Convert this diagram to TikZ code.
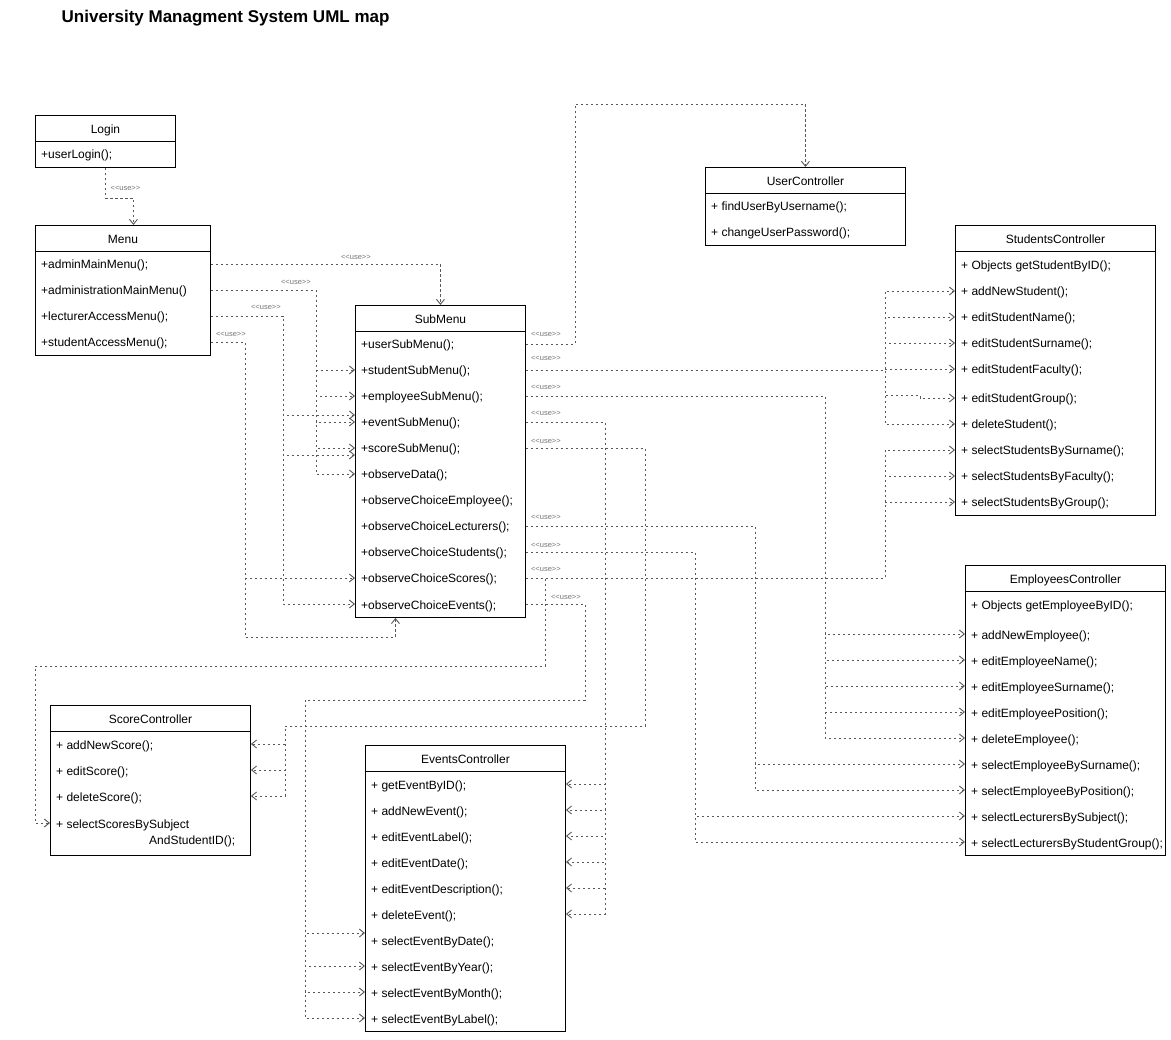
\documentclass[tikz,border=0pt]{standalone}
\usepackage{fontspec}
\setmainfont{Liberation Sans}
\newfontfamily\lblfont{Liberation Sans}
\usetikzlibrary{arrows.meta,calc}
\begin{document}
\begin{tikzpicture}[x=1pt,y=1pt,
  hdr/.style={draw=black, line width=0.9pt, fill=white, anchor=north west, inner sep=0,
    font=\fontsize{12}{14}\selectfont, text height=12pt, text depth=2pt},
  box/.style={draw=black, line width=0.9pt, fill=white, anchor=north west, inner sep=0},
  row/.style={anchor=west, inner sep=0, font=\fontsize{12}{14}\selectfont, text height=12pt, text depth=2pt},
  use/.style={draw=black!65, line width=0.65pt, dash pattern=on 2.5pt off 2.5pt,
    -{Straight Barb[length=5pt,width=8pt,line width=0.9pt]}},
  lbl/.style={font=\lblfont\fontsize{7.5}{8}\selectfont, text=black!55, inner sep=0}
]
\useasboundingbox (0,0) rectangle (1171,-1040);

% title
\node[anchor=base west, inner sep=0, font=\bfseries\fontsize{17}{20}\selectfont] (title) at (61.5,-23) {University Managment System UML map};

% Login
\node[hdr, minimum width=140, minimum height=26] (loginh) at (35,-115) {Login};
\node[box, minimum width=140, minimum height=26] (loginb) at (35,-141) {};
\node[row] (login1) at (41,-154) {+userLogin();};

% Menu
\node[hdr, minimum width=175, minimum height=26] (menuh) at (35,-225) {Menu};
\node[box, minimum width=175, minimum height=104] (menub) at (35,-251) {};
\node[row] (menu1) at (41,-264) {+adminMainMenu();};
\node[row] (menu2) at (41,-290) {+administrationMainMenu()};
\node[row] (menu3) at (41,-316) {+lecturerAccessMenu();};
\node[row] (menu4) at (41,-342) {+studentAccessMenu();};

% SubMenu
\node[hdr, minimum width=170, minimum height=26] (smh) at (355,-305) {SubMenu};
\node[box, minimum width=170, minimum height=286] (smb) at (355,-331) {};
\node[row] (sm1) at (361,-344) {+userSubMenu();};
\node[row] (sm2) at (361,-370) {+studentSubMenu();};
\node[row] (sm3) at (361,-396) {+employeeSubMenu();};
\node[row] (sm4) at (361,-422) {+eventSubMenu();};
\node[row] (sm5) at (361,-448) {+scoreSubMenu();};
\node[row] (sm6) at (361,-474) {+observeData();};
\node[row] (sm7) at (361,-500) {+observeChoiceEmployee();};
\node[row] (sm8) at (361,-526) {+observeChoiceLecturers();};
\node[row] (sm9) at (361,-552) {+observeChoiceStudents();};
\node[row] (sm10) at (361,-578) {+observeChoiceScores();};
\node[row] (sm11) at (361,-604) {+observeChoiceEvents();};

% UserController
\node[hdr, minimum width=200, minimum height=26] (uch) at (705,-167) {UserController};
\node[box, minimum width=200, minimum height=52] (ucb) at (705,-193) {};
\node[row] (uc1) at (711,-206) {+ findUserByUsername();};
\node[row] (uc2) at (711,-232) {+ changeUserPassword();};

% StudentsController
\node[hdr, minimum width=200, minimum height=26] (sch) at (955,-225) {StudentsController};
\node[box, minimum width=200, minimum height=264] (scb) at (955,-251) {};
\node[row] (sc1) at (961,-265) {+ Objects getStudentByID();};
\node[row] (sc2) at (961,-291) {+ addNewStudent();};
\node[row] (sc3) at (961,-317) {+ editStudentName();};
\node[row] (sc4) at (961,-343) {+ editStudentSurname();};
\node[row] (sc5) at (961,-369) {+ editStudentFaculty();};
\node[row] (sc6) at (961,-398) {+ editStudentGroup();};
\node[row] (sc7) at (961,-424) {+ deleteStudent();};
\node[row] (sc8) at (961,-450) {+ selectStudentsBySurname();};
\node[row] (sc9) at (961,-476) {+ selectStudentsByFaculty();};
\node[row] (sc10) at (961,-502) {+ selectStudentsByGroup();};

% EmployeesController
\node[hdr, minimum width=200, minimum height=26] (ech) at (965,-565) {EmployeesController};
\node[box, minimum width=200, minimum height=264] (ecb) at (965,-591) {};
\node[row] (ec1) at (971,-604) {+ Objects getEmployeeByID();};
\node[row] (ec2) at (971,-634) {+ addNewEmployee();};
\node[row] (ec3) at (971,-660) {+ editEmployeeName();};
\node[row] (ec4) at (971,-686) {+ editEmployeeSurname();};
\node[row] (ec5) at (971,-712) {+ editEmployeePosition();};
\node[row] (ec6) at (971,-738) {+ deleteEmployee();};
\node[row] (ec7) at (971,-764) {+ selectEmployeeBySurname();};
\node[row] (ec8) at (971,-790) {+ selectEmployeeByPosition();};
\node[row] (ec9) at (971,-816) {+ selectLecturersBySubject();};
\node[row] (ec10) at (971,-842) {+ selectLecturersByStudentGroup();};

% ScoreController
\node[hdr, minimum width=200, minimum height=26] (soh) at (50,-705) {ScoreController};
\node[box, minimum width=200, minimum height=124] (sob) at (50,-731) {};
\node[row] (so1) at (56,-744) {+ addNewScore();};
\node[row] (so2) at (56,-770) {+ editScore();};
\node[row] (so3) at (56,-796) {+ deleteScore();};
\node[row] (so4) at (56,-823) {+ selectScoresBySubject};
\node[row] (so4b) at (149,-839) {AndStudentID();};

% EventsController
\node[hdr, minimum width=200, minimum height=26] (evh) at (365,-745) {EventsController};
\node[box, minimum width=200, minimum height=260] (evb) at (365,-771) {};
\node[row] (ev1) at (371,-784) {+ getEventByID();};
\node[row] (ev2) at (371,-810) {+ addNewEvent();};
\node[row] (ev3) at (371,-836) {+ editEventLabel();};
\node[row] (ev4) at (371,-862) {+ editEventDate();};
\node[row] (ev5) at (371,-888) {+ editEventDescription();};
\node[row] (ev6) at (371,-914) {+ deleteEvent();};
\node[row] (ev7) at (371,-940) {+ selectEventByDate();};
\node[row] (ev8) at (371,-966) {+ selectEventByYear();};
\node[row] (ev9) at (371,-992) {+ selectEventByMonth();};
\node[row] (ev10) at (371,-1018) {+ selectEventByLabel();};

% routing coordinates
\coordinate (xA) at (316,0);
\coordinate (xL) at (283,0);
\coordinate (xS) at (245,0);
\coordinate (yS) at (0,-637);
\coordinate (jUC) at (575,-104);
\coordinate (xSt) at (885,0);
\coordinate (xEm) at (825,0);
\coordinate (xEv) at (605,0);
\coordinate (jSc) at (645,-726);
\coordinate (xSc) at (285,0);
\coordinate (xLe) at (755,0);
\coordinate (xSt2) at (695,0);
\coordinate (jSS) at (545,-666);
\coordinate (xLft) at (35,0);
\coordinate (jEv) at (585,-700);
\coordinate (xEv2) at (305,0);

% Login -> Menu
\draw[use] (loginb.south) -- ++(0,-30) -| ([xshift=10.5]menuh.north);
\node[lbl] (l0) at ($(loginb.south)+(20,-20)$) {<<use>>};

% Menu -> SubMenu
\draw[use] (menub.east |- menu1) -| (smh.north);
\node[lbl] (l1) at ($(menub.east |- menu1)+(145,7)$) {<<use>>};

\foreach \t in {sm2,sm3,sm4,sm5,sm6}
  \draw[use] (menub.east |- menu2) -| (xA |- \t) -- (smb.west |- \t);
\node[lbl] (l2) at ($(menub.east |- menu2)+(85,8)$) {<<use>>};

\draw[use] (menub.east |- menu3) -| ($(xL |- sm4)+(0,7)$) -- ($(smb.west |- sm4)+(0,7)$);
\draw[use] (menub.east |- menu3) -| ($(xL |- sm5)+(0,-7)$) -- ($(smb.west |- sm5)+(0,-7)$);
\draw[use] (menub.east |- menu3) -| (xL |- sm11) -- (smb.west |- sm11);
\node[lbl] (l3) at ($(menub.east |- menu3)+(55,9)$) {<<use>>};

\draw[use] (menub.east |- menu4) -| (xS |- sm10) -- (smb.west |- sm10);
\draw[use] (menub.east |- menu4) -| (xS |- yS) -| ([xshift=-45]smb.south);
\node[lbl] (l4) at ($(menub.east |- menu4)+(20,8)$) {<<use>>};

% SubMenu -> UserController
\draw[use] (smb.east |- sm1) -| (jUC) -| (uch.north);
\node[lbl] (r1) at ($(smb.east |- sm1)+(20,10)$) {<<use>>};

% SubMenu -> StudentsController
\foreach \t in {sc2,sc3,sc4,sc5,sc7}
  \draw[use] (smb.east |- sm2) -| (xSt |- \t) -- (scb.west |- \t);
\draw[use] (smb.east |- sm2) -| ($(xSt |- sc6)+(0,3)$) -- ($(xSt |- sc6)+(35,3)$) |- (scb.west |- sc6);
\node[lbl] (r2) at ($(smb.east |- sm2)+(20,12)$) {<<use>>};

% SubMenu -> EmployeesController
\foreach \t in {ec2,ec3,ec4,ec5,ec6}
  \draw[use] (smb.east |- sm3) -| (xEm |- \t) -- (ecb.west |- \t);
\node[lbl] (r3) at ($(smb.east |- sm3)+(20,9)$) {<<use>>};

% SubMenu -> EventsController
\foreach \t in {ev1,ev2,ev3,ev4,ev5,ev6}
  \draw[use] (smb.east |- sm4) -| (xEv |- \t) -- (evb.east |- \t);
\node[lbl] (r4) at ($(smb.east |- sm4)+(20,9)$) {<<use>>};

% SubMenu -> ScoreController
\foreach \t in {so1,so2,so3}
  \draw[use] (smb.east |- sm5) -| (jSc) -| (xSc |- \t) -- (sob.east |- \t);
\node[lbl] (r5) at ($(smb.east |- sm5)+(20,7)$) {<<use>>};

% observeChoiceLecturers
\foreach \t in {ec7,ec8}
  \draw[use] (smb.east |- sm8) -| (xLe |- \t) -- (ecb.west |- \t);
\node[lbl] (r8) at ($(smb.east |- sm8)+(20,9)$) {<<use>>};

% observeChoiceStudents
\foreach \t in {ec9,ec10}
  \draw[use] (smb.east |- sm9) -| (xSt2 |- \t) -- (ecb.west |- \t);
\node[lbl] (r9) at ($(smb.east |- sm9)+(20,7)$) {<<use>>};

% observeChoiceScores
\foreach \t in {sc8,sc9,sc10}
  \draw[use] (smb.east |- sm10) -| (xSt |- \t) -- (scb.west |- \t);
\draw[use] (smb.east |- sm10) -| (jSS) -| (xLft |- so4) -- (sob.west |- so4);
\node[lbl] (r10) at ($(smb.east |- sm10)+(20,9)$) {<<use>>};

% observeChoiceEvents
\draw[use] (smb.east |- sm11) -| (jEv) -| ($(xEv2 |- ev7)+(0,7)$) -- ($(evb.west |- ev7)+(0,7)$);
\foreach \t in {ev8,ev9,ev10}
  \draw[use] (smb.east |- sm11) -| (jEv) -| (xEv2 |- \t) -- (evb.west |- \t);
\node[lbl] (r11) at ($(smb.east |- sm11)+(40,7)$) {<<use>>};

\end{tikzpicture}
\end{document}
